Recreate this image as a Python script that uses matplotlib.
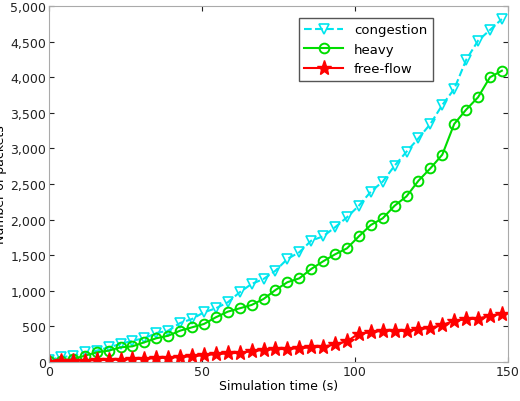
import numpy as np
import matplotlib
matplotlib.use("Agg")
import matplotlib.pyplot as plt
from matplotlib.ticker import FuncFormatter

t = np.linspace(0, 148, 39)
congestion = [30, 66, 88, 136, 159, 206, 253, 299, 333, 407, 440, 548, 604, 698, 754, 838, 979, 1096, 1166, 1282, 1447,
              1541, 1704, 1765, 1892, 2032, 2195, 2392, 2533, 2757, 2954, 3142, 3343, 3610, 3834, 4242, 4513, 4663, 4817]
heavy = [10, 18, 42, 88, 136, 159, 206, 220, 277, 333, 369, 440, 487, 534, 628, 707, 754, 801, 885, 1011, 1120,
         1175, 1306, 1414, 1512, 1596, 1765, 1924, 2018, 2195, 2327, 2546, 2720, 2912, 3343, 3544, 3718, 3999, 4091]
freeflow = [5, 10, 15, 20, 25, 30, 35, 40, 45, 55, 60, 70, 80, 95, 110, 120, 130, 150, 170, 180,
            183, 195, 205, 215, 250, 290, 400, 415, 440, 440, 435, 460, 480, 520, 580, 600, 610, 650, 675]

fig = plt.figure(figsize=(5.2, 4.02), dpi=100)
ax = fig.add_axes([49/520, 1-363/402, 459/520, 356/402])
ax.plot(t, congestion, '--v', color='#00e5ee', lw=1.5, ms=7, mfc='none', mew=1.2, label='congestion')
ax.plot(t, heavy, '-o', color='#00dd00', lw=1.5, ms=7, mfc='none', mew=1.4, label='heavy')
ax.plot(t, freeflow, '-*', color='red', lw=1.5, ms=11, label='free-flow')
ax.set_xlim(0, 150)
ax.set_ylim(0, 5000)
ax.set_xticks([0, 50, 100, 150])
ax.set_yticks(np.arange(0, 5001, 500))
ax.yaxis.set_major_formatter(FuncFormatter(lambda v, p: f"{int(v):,}"))
ax.tick_params(direction='in', top=True, right=True, labelsize=9, colors='#222222', pad=2)
for s in ax.spines.values():
    s.set_color('#aaaaaa')
ax.set_xlabel('Simulation time (s)', fontsize=9, labelpad=1)
ax.set_ylabel('Number of packets', fontsize=9, labelpad=2)
leg = ax.legend(loc='upper right', bbox_to_anchor=(0.85, 0.985), fontsize=9.5, fancybox=False,
                framealpha=1, handlelength=3, borderpad=0.4)
leg.get_frame().set_edgecolor('#555555')
fig.savefig('out.png', dpi=100)
